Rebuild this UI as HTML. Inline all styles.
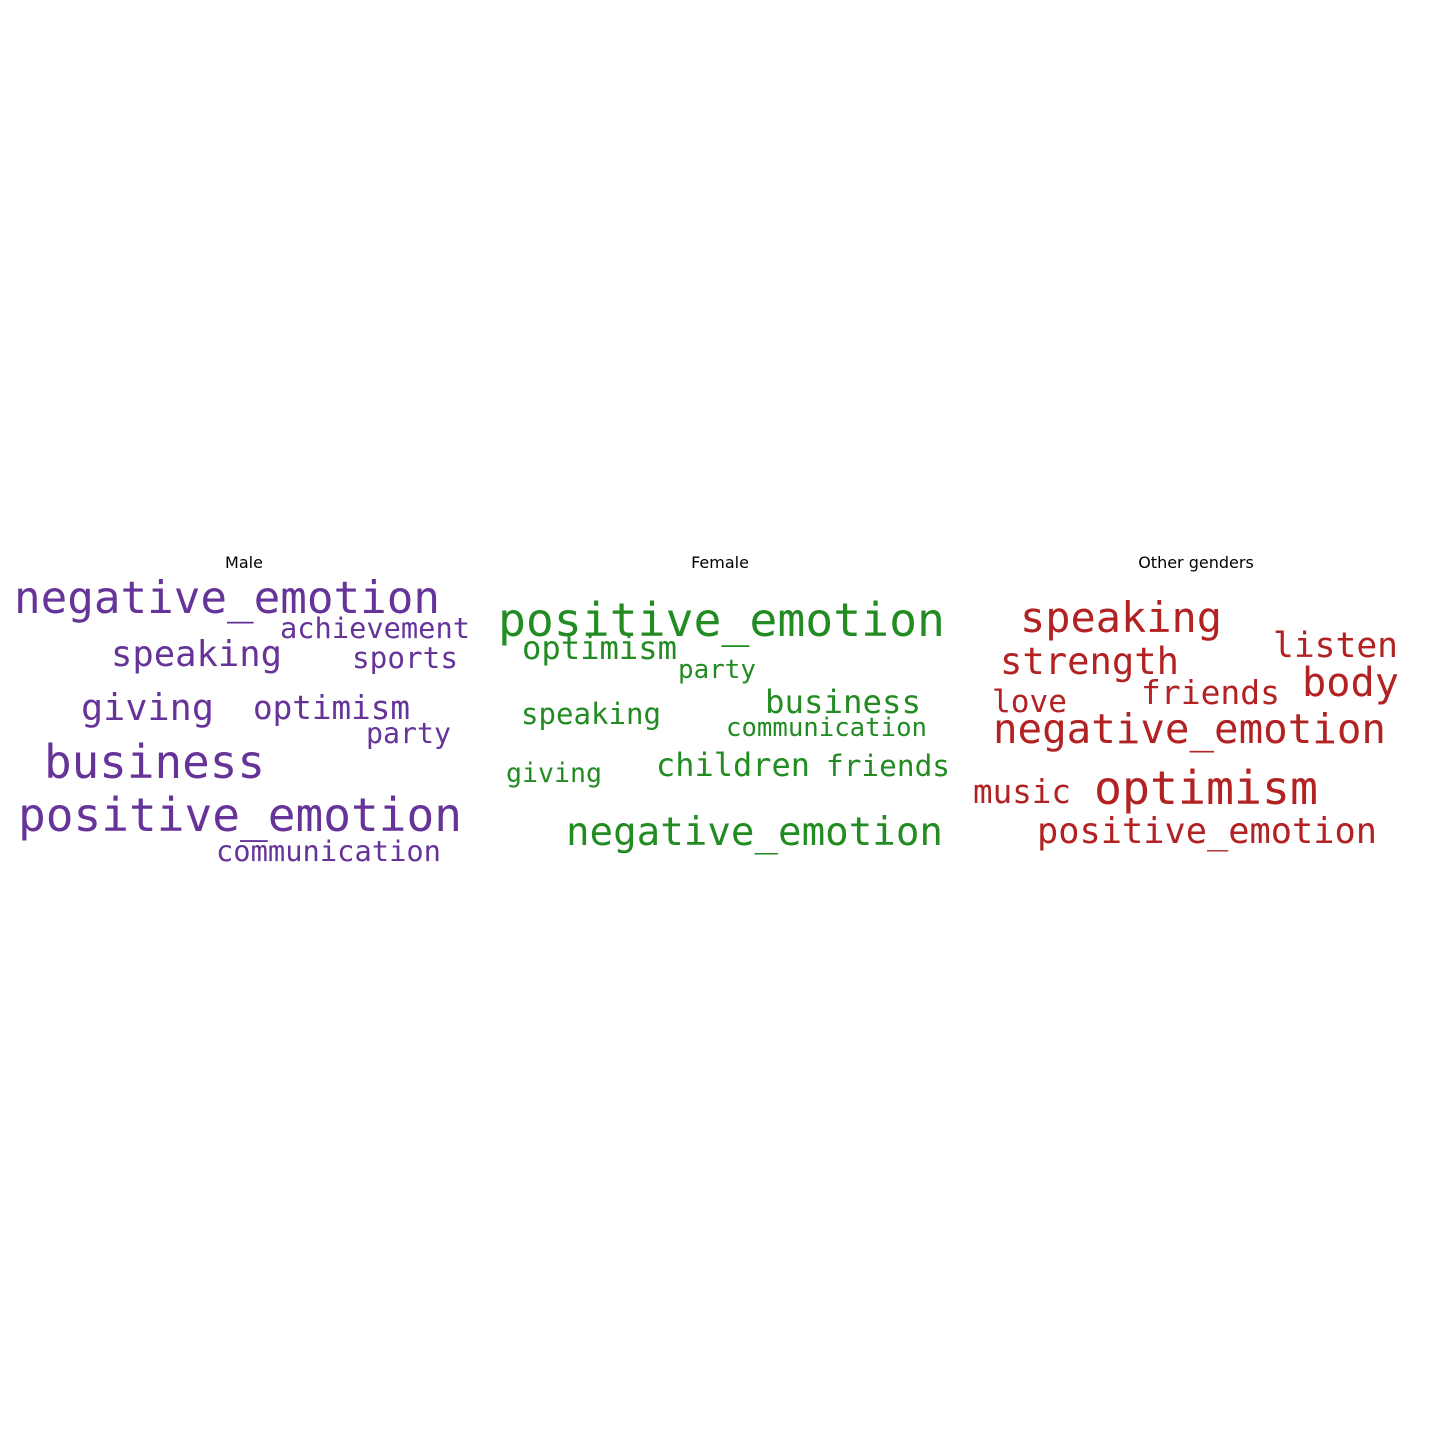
<!DOCTYPE html>
<html><head><meta charset="utf-8"><style>
html,body{margin:0;padding:0;background:#fff;}
svg{display:block;}
</style></head><body>
<svg id="chart" width="1440" height="1440" viewBox="0 0 1440 1440">
<rect width="1440" height="1440" fill="#fff"/>
<text x="244" y="568" text-anchor="middle" font-family="DejaVu Sans, sans-serif" font-size="16">Male</text>
<text x="720" y="568" text-anchor="middle" font-family="DejaVu Sans, sans-serif" font-size="16">Female</text>
<text x="1196" y="568" text-anchor="middle" font-family="DejaVu Sans, sans-serif" font-size="16">Other genders</text>
<g id="words"></g>
</svg>
<script>
const maleWords=["negative_emotion","achievement","speaking","sports","giving","optimism","party","business","positive_emotion","communication"];
const maleX=[14,280,111,352,81,253,366,44,18,216];
const maleY=[613,638,666,668,720,719,743,778,831,861];
const maleW=[426,190,171,106,133,157,85,221,444,225];
const femaleWords=["positive_emotion","optimism","party","business","communication","speaking","giving","children","friends","negative_emotion"];
const femaleX=[498,522,678,765,726,521,506,656,826,566];
const femaleY=[636,659,678,713,736,724,782,776,776,845];
const femaleW=[447,155,78,156,201,140,96,154,124,377];
const otherWords=["speaking","listen","strength","body","love","friends","negative_emotion","music","optimism","positive_emotion"];
const otherX=[1020,1273,1000,1302,992,1141,993,973,1094,1037];
const otherY=[632,657,674,696,712,704,743,803,804,843];
const otherW=[202,125,179,97,75,139,393,98,224,340];
const g=document.getElementById('words');
function draw(words,xs,ys,ws,color,prefix){
  words.forEach((w,i)=>{
    const t=document.createElementNS('http://www.w3.org/2000/svg','text');
    const fs=ws[i]/(w.length*0.602);
    t.setAttribute('x',xs[i]);
    t.setAttribute('y',ys[i]);
    t.setAttribute('font-size',fs.toFixed(1));
    t.setAttribute('font-family','DejaVu Sans Mono, Liberation Mono, monospace');
    t.setAttribute('fill',color);
    t.setAttribute('textLength',ws[i]);
    t.setAttribute('lengthAdjust','spacingAndGlyphs');
    t.textContent=w;
    
    
    g.appendChild(t);
  });
}
draw(maleWords,maleX,maleY,maleW,'#663399','male');
draw(femaleWords,femaleX,femaleY,femaleW,'#228B22','female');
draw(otherWords,otherX,otherY,otherW,'#B22222','other');
</script>
</body></html>
